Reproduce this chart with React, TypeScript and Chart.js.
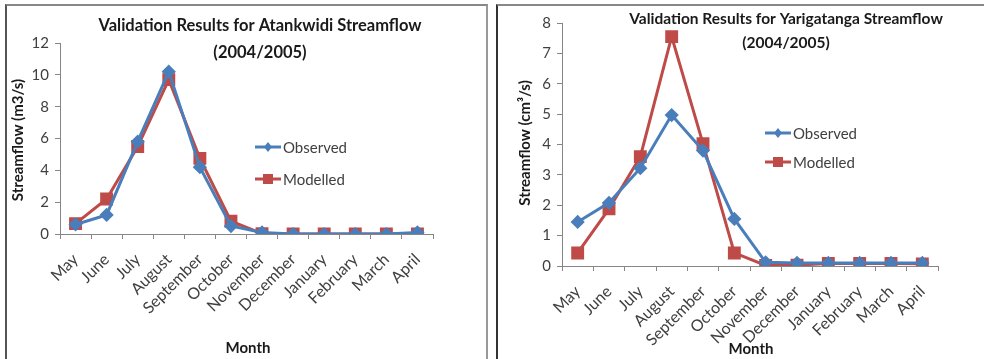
import React, { useEffect, useRef } from "react";
import { Chart, registerables } from "chart.js";

Chart.register(...registerables);

const months = ["May", "June", "July", "August", "September", "October", "November", "December", "January", "February", "March", "April"];

const atankwidiObserved = [0.6, 1.2, 5.8, 10.2, 4.2, 0.5, 0.1, 0.0, 0.0, 0.0, 0.0, 0.1];
const atankwidiModelled = [0.65, 2.2, 5.5, 9.7, 4.75, 0.8, 0.02, 0.0, 0.0, 0.0, 0.0, 0.0];

const yarigatangaObserved = [1.45, 2.08, 3.22, 4.97, 3.8, 1.55, 0.12, 0.1, 0.1, 0.1, 0.1, 0.1];
const yarigatangaModelled = [0.43, 1.88, 3.6, 7.55, 4.03, 0.43, 0.02, 0.03, 0.08, 0.08, 0.08, 0.07];

const BLUE = "#4A7EBB";
const RED = "#BE4B48";
const FONT = "Lato, 'Open Sans', sans-serif";

type Layout = {
  w: number;
  h: number;
  pad: { left: number; right: number; top: number; bottom: number };
  yWidth: number;
  xHeight: number;
  yMax: number;
  yStep: number;
  title: string[];
  titleX: number;
  titleY: number[];
  titleSize: number;
  yTitle: string;
  yTitleX: number;
  yTitleY: number;
  monthX: number;
  monthY: number;
  legX: number;
  legY: number[];
};

const overlayPlugin = (L: Layout) => ({
  id: "overlay",
  afterDraw(chart: any) {
    const ctx = chart.ctx;
    ctx.save();
    ctx.fillStyle = "#1a1a1a";
    ctx.textAlign = "center";
    ctx.textBaseline = "middle";
    ctx.font = `bold ${L.titleSize}px ${FONT}`;
    L.title.forEach((t, i) => ctx.fillText(t, L.titleX, L.titleY[i]));
    ctx.font = `bold 15px ${FONT}`;
    ctx.fillText("Month", L.monthX, L.monthY);
    ctx.save();
    ctx.translate(L.yTitleX, L.yTitleY);
    ctx.rotate(-Math.PI / 2);
    ctx.font = `bold 15px ${FONT}`;
    ctx.fillText(L.yTitle, 0, 0);
    ctx.restore();
    // legend
    chart.data.datasets.forEach((ds: any, i: number) => {
      const y = L.legY[i];
      ctx.strokeStyle = ds.borderColor;
      ctx.lineWidth = 3;
      ctx.beginPath();
      ctx.moveTo(L.legX, y);
      ctx.lineTo(L.legX + 26, y);
      ctx.stroke();
      ctx.fillStyle = ds.borderColor;
      const cx = L.legX + 13;
      if (ds.pointStyle === "rectRot") {
        ctx.beginPath();
        ctx.moveTo(cx, y - 5);
        ctx.lineTo(cx + 4, y);
        ctx.lineTo(cx, y + 5);
        ctx.lineTo(cx - 4, y);
        ctx.closePath();
        ctx.fill();
      } else {
        ctx.fillRect(cx - 5, y - 5, 10, 10);
      }
      ctx.fillStyle = "#404040";
      ctx.textAlign = "left";
      ctx.font = `15px ${FONT}`;
      ctx.fillText(ds.label, L.legX + 28, y + 1);
    });
    ctx.restore();
  },
});

function LineChart({ layout, observed, modelled }: { layout: Layout; observed: number[]; modelled: number[] }) {
  const ref = useRef<HTMLCanvasElement>(null);
  useEffect(() => {
    const L = layout;
    const chart = new Chart(ref.current!, {
      type: "line",
      data: {
        labels: months,
        datasets: [
          {
            label: "Observed",
            data: observed,
            borderColor: BLUE,
            backgroundColor: BLUE,
            borderWidth: 3,
            pointStyle: "rectRot",
            pointRadius: 5,
            tension: 0,
          },
          {
            label: "Modelled",
            data: modelled,
            borderColor: RED,
            backgroundColor: RED,
            borderWidth: 3,
            pointStyle: "rect",
            pointRadius: 7,
            tension: 0,
          },
        ],
      },
      options: {
        animation: false,
        responsive: false,
        devicePixelRatio: 1,
        layout: { padding: L.pad },
        plugins: { legend: { display: false }, title: { display: false }, tooltip: { enabled: false } },
        scales: {
          x: {
            offset: true,
            grid: { display: true, drawOnChartArea: false, drawTicks: true, tickLength: 5, offset: true, color: "#868686" },
            border: { display: true, color: "#868686", width: 1 },
            ticks: {
              autoSkip: false,
              minRotation: 45,
              maxRotation: 45,
              color: "#404040",
              font: { family: FONT, size: 16 },
              padding: 11,
            },
            afterFit: (s: any) => {
              s.height = L.xHeight;
            },
          },
          y: {
            min: 0,
            max: L.yMax,
            grid: { display: true, drawOnChartArea: false, drawTicks: true, tickLength: 5, color: "#868686" },
            border: { display: true, color: "#868686", width: 1 },
            ticks: { stepSize: L.yStep, color: "#404040", font: { family: FONT, size: 15 }, padding: 6 },
            afterFit: (s: any) => {
              s.width = L.yWidth;
            },
          },
        },
      },
      plugins: [overlayPlugin(L)],
    });
    return () => chart.destroy();
  }, []);
  return <canvas ref={ref} width={layout.w} height={layout.h} style={{ display: "block", width: layout.w, height: layout.h }} />;
}

const leftLayout: Layout = {
  w: 490,
  h: 359,
  pad: { left: 0, right: 57, top: 43, bottom: 45 },
  yWidth: 60,
  xHeight: 80,
  yMax: 12,
  yStep: 2,
  title: ["Validation Results for Atankwidi Streamflow", "(2004/2005)"],
  titleX: 260,
  titleY: [26, 53],
  titleSize: 16.5,
  yTitle: "Streamflow (m3/s)",
  yTitleX: 18,
  yTitleY: 140,
  monthX: 248,
  monthY: 348,
  legX: 255,
  legY: [147, 179],
};

const rightLayout: Layout = {
  w: 494,
  h: 359,
  pad: { left: 0, right: 46, top: 23, bottom: 13 },
  yWidth: 72,
  xHeight: 80,
  yMax: 8,
  yStep: 1,
  title: ["Validation Results for Yarigatanga Streamflow", "(2004/2005)"],
  titleX: 296,
  titleY: [19, 43],
  titleSize: 15.5,
  yTitle: "Streamflow (cm³/s)",
  yTitleX: 35,
  yTitleY: 143,
  monthX: 261,
  monthY: 349,
  legX: 275,
  legY: [133, 162],
};

export default function App() {
  return (
    <div style={{ position: "absolute", left: 0, top: 0, width: 984, height: 359, background: "#fff", overflow: "hidden" }}>
      <div style={{ position: "absolute", left: 0, top: 0 }}>
        <LineChart layout={leftLayout} observed={atankwidiObserved} modelled={atankwidiModelled} />
      </div>
      <div style={{ position: "absolute", left: 490, top: 0 }}>
        <LineChart layout={rightLayout} observed={yarigatangaObserved} modelled={yarigatangaModelled} />
      </div>
      <div style={{ position: "absolute", left: 5, top: 4, width: 483, height: 400, borderLeft: "2px solid #555", borderTop: "2px solid #888", borderRight: "2px solid #999", boxSizing: "border-box" }} />
      <div style={{ position: "absolute", left: 496, top: 4, width: 500, height: 400, borderLeft: "2px solid #333", borderTop: "2px solid #888", boxSizing: "border-box" }} />
    </div>
  );
}
